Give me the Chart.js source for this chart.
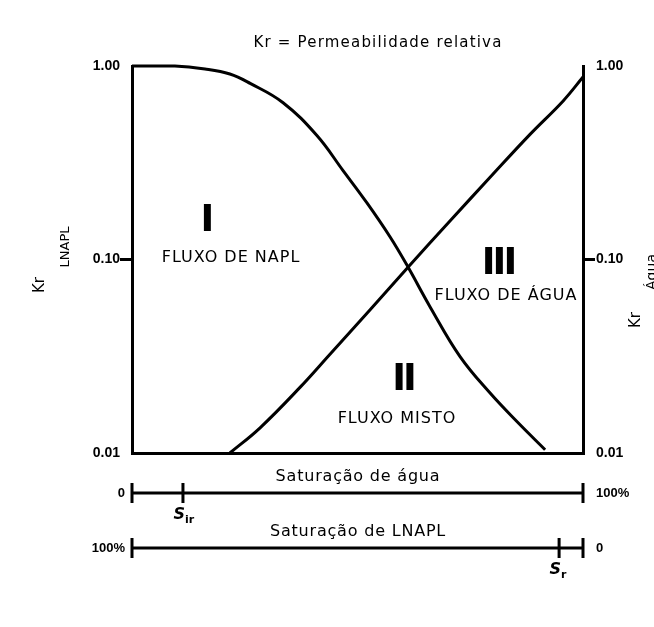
<!DOCTYPE html>
<html>
<head>
<meta charset="utf-8">
<script src="https://cdn.jsdelivr.net/npm/chart.js@4/dist/chart.umd.min.js"></script>
<style>
  html, body { margin: 0; padding: 0; background: #fff; }
</style>
</head>
<body>
<canvas id="kr" width="654" height="627"></canvas>
<script>
// saturação de água (%) x permeabilidade relativa
const napl_sw = [0, 9.5, 16.2, 21.7, 26.2, 33.5, 41.0, 46.8, 52.1, 57.2, 61.2, 66.1, 72.7, 79.4, 85.4, 91.6];
const napl_kr = [1.0, 1.0, 0.965, 0.909, 0.813, 0.646, 0.437, 0.288, 0.196, 0.131, 0.0914, 0.0569, 0.0316, 0.0204, 0.0145, 0.0104];
const agua_sw = [21.7, 28.4, 37.3, 43.9, 52.8, 61.2, 70.5, 79.4, 88.2, 95.6, 100];
const agua_kr = [0.01, 0.0135, 0.0219, 0.0324, 0.055, 0.0912, 0.158, 0.266, 0.442, 0.66, 0.877];
const kr_ticks = [0.01, 0.1, 1];

// eixos de saturação abaixo do gráfico
const sat_agua_ticks = [0, 11.3, 100];
const sat_agua_labels = ['0', 'ir', '100%'];
const sat_lnapl_ticks = [100, 5.3, 0];
const sat_lnapl_labels = ['100%', 'r', '0'];

const BLACK = '#000';

function pts(xs, ys) {
  return xs.map((v, i) => ({x: v, y: ys[i]}));
}

function rotText(ctx, txt, x, y, font) {
  ctx.save();
  ctx.translate(x, y);
  ctx.rotate(-Math.PI / 2);
  ctx.font = font;
  ctx.textAlign = 'center';
  ctx.fillText(txt, 0, 0);
  ctx.restore();
}

// linha de saturação com marcas; sat -> valor de água no eixo x
function satAxis(ctx, xs, y, ticks, labels, toAgua, title) {
  const x0 = xs.getPixelForValue(0), x1 = xs.getPixelForValue(100);
  ctx.lineWidth = 3;
  ctx.beginPath();
  ctx.moveTo(x0, y); ctx.lineTo(x1, y);
  ticks.forEach(t => {
    const px = xs.getPixelForValue(toAgua(t));
    ctx.moveTo(px, y - 10); ctx.lineTo(px, y + 10);
  });
  ctx.stroke();

  ctx.font = '16px "DejaVu Sans"';
  ctx.letterSpacing = '0.8px';
  ctx.textAlign = 'center';
  ctx.fillText(title, 358, y - 16);
  ctx.letterSpacing = '0px';

  ticks.forEach((t, i) => {
    const px = xs.getPixelForValue(toAgua(t));
    const lbl = labels[i];
    ctx.font = 'bold 13px "Liberation Sans"';
    if (px <= x0 + 1) {
      ctx.textAlign = 'right';
      ctx.fillText(lbl, px - 7, y);
    } else if (px >= x1 - 1) {
      ctx.textAlign = 'left';
      ctx.fillText(lbl, px + 13, y);
    } else {
      // S com subscrito
      ctx.textAlign = 'right';
      ctx.font = 'bold italic 16px "DejaVu Sans"';
      ctx.fillText('S', px + 2, y + 22);
      ctx.textAlign = 'left';
      ctx.font = 'bold 11px "DejaVu Sans"';
      ctx.fillText(lbl, px + 2, y + 27);
    }
  });
}

const extras = {
  id: 'extras',
  afterDraw(chart) {
    const {ctx, chartArea: a, scales: {x}} = chart;
    ctx.save();
    ctx.fillStyle = BLACK;
    ctx.strokeStyle = BLACK;
    ctx.textBaseline = 'middle';

    ctx.font = '15px "DejaVu Sans"';
    ctx.letterSpacing = '1.2px';
    ctx.textAlign = 'center';
    ctx.fillText('Kr = Permeabilidade relativa', 378, 43);
    ctx.letterSpacing = '0px';

    // títulos dos eixos verticais
    rotText(ctx, 'Kr', 40, 285, '15px "DejaVu Sans"');
    rotText(ctx, 'LNAPL', 66, 247, '13px "DejaVu Sans"');
    rotText(ctx, 'Kr', 636, 320, '15px "DejaVu Sans"');
    rotText(ctx, 'Água', 652, 272, '14px "DejaVu Sans"');

    // regiões de fluxo
    ctx.textAlign = 'center';
    ctx.font = 'bold 37px "DejaVu Sans"';
    ctx.letterSpacing = '-3px';
    ctx.fillText('I', 206, 221);
    ctx.fillText('II', 403, 380);
    ctx.fillText('III', 498, 264);
    ctx.font = '16px "DejaVu Sans"';
    ctx.letterSpacing = '1px';
    ctx.fillText('FLUXO DE NAPL', 231, 258);
    ctx.fillText('FLUXO MISTO', 397, 419);
    ctx.fillText('FLUXO DE ÁGUA', 506, 296);
    ctx.letterSpacing = '0px';

    satAxis(ctx, x, a.bottom + 40, sat_agua_ticks, sat_agua_labels, v => v, 'Saturação de água');
    satAxis(ctx, x, a.bottom + 95, sat_lnapl_ticks, sat_lnapl_labels, v => 100 - v, 'Saturação de LNAPL');
    ctx.restore();
  }
};

function krAxis(position, width, align) {
  return {
    type: 'logarithmic',
    position: position,
    min: 0.01,
    max: 1,
    border: { display: true, width: 3, color: BLACK },
    grid: {
      drawOnChartArea: false,
      tickLength: 12,
      lineWidth: 3,
      color: 'rgba(0,0,0,0)',
      tickColor: c => (c.tick && c.tick.value === 0.1) ? BLACK : 'rgba(0,0,0,0)'
    },
    afterBuildTicks: s => { s.ticks = kr_ticks.map(v => ({value: v})); },
    afterFit: s => { s.width = width; },
    ticks: {
      color: BLACK,
      padding: align === 'left' ? 0 : 1,
      font: { family: 'Liberation Sans', size: 14, weight: 'bold' },
      autoSkip: false,
      maxRotation: 0,
      callback: v => Number(v).toFixed(2)
    }
  };
}

new Chart(document.getElementById('kr'), {
  type: 'line',
  data: {
    datasets: [{
      label: 'Kr LNAPL',
      data: pts(napl_sw, napl_kr),
      borderColor: BLACK,
      borderWidth: 3,
      pointRadius: 0,
      tension: 0.4,
      clip: 5
    }, {
      label: 'Kr água',
      data: pts(agua_sw, agua_kr),
      borderColor: BLACK,
      borderWidth: 3,
      pointRadius: 0,
      tension: 0.4,
      clip: 5
    }]
  },
  options: {
    responsive: false,
    animation: false,
    layout: { padding: { top: 66, bottom: 174, left: 0, right: 0 } },
    plugins: { legend: { display: false }, tooltip: { enabled: false } },
    scales: {
      x: {
        type: 'linear',
        min: 0,
        max: 100,
        grid: { display: false },
        ticks: { display: false },
        border: { display: true, width: 3, color: BLACK },
        afterFit: s => { s.height = 0; }
      },
      y: krAxis('left', 132, 'left'),
      y2: krAxis('right', 71, 'right')
    }
  },
  plugins: [extras]
});
</script>
</body>
</html>
